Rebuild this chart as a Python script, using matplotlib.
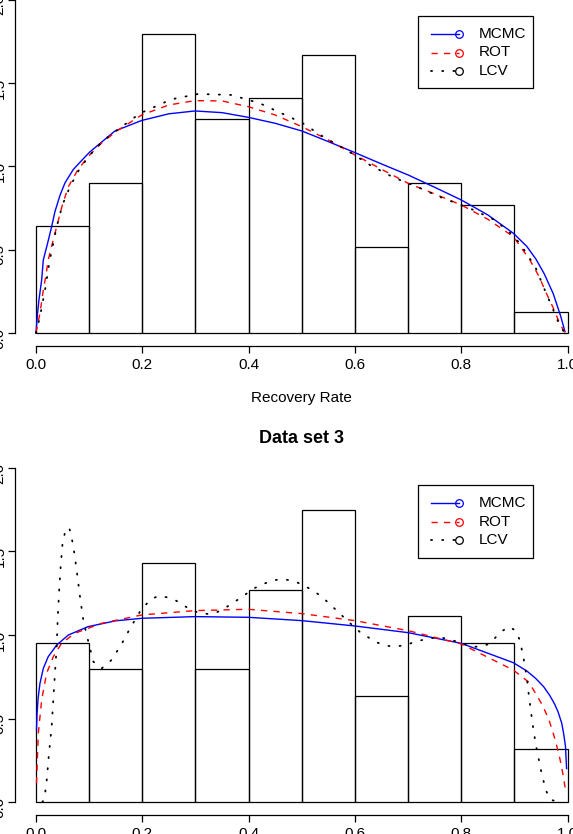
import matplotlib
matplotlib.use('Agg')
import matplotlib.pyplot as plt
from matplotlib.lines import Line2D
from matplotlib.patches import Rectangle
import numpy as np

plt.rcParams['font.family'] = ['Liberation Sans', 'DejaVu Sans']

# ---------------- data ----------------
bin_edges = [0.0, 0.1, 0.2, 0.3, 0.4, 0.5, 0.6, 0.7, 0.8, 0.9, 1.0]
counts_set2 = [5, 7, 14, 10, 11, 13, 4, 7, 6, 1]
counts_set3 = [6, 5, 9, 5, 8, 11, 4, 7, 6, 2]

x_ticks = [0.0, 0.2, 0.4, 0.6, 0.8, 1.0]
x_tick_labels = ["0.0", "0.2", "0.4", "0.6", "0.8", "1.0"]
y_ticks = [0.0, 0.5, 1.0, 1.5, 2.0]
y_tick_labels = ["0.0", "0.5", "1.0", "1.5", "2.0"]

legend_labels = ["MCMC", "ROT", "LCV"]

# Data set 2 (top panel) density curves
mcmc2_x = [0.0, 0.003, 0.0056, 0.0107, 0.0138, 0.022, 0.0295, 0.0357, 0.0451, 0.0545, 0.0700,
           0.0859, 0.101, 0.114, 0.1486, 0.1988, 0.25, 0.299, 0.35, 0.399,
           0.45, 0.5, 0.55, 0.6, 0.65, 0.7, 0.75, 0.8, 0.85, 0.898, 0.923, 0.940,
           0.956, 0.973, 0.987, 0.995]
mcmc2_y = [0.0, 0.118, 0.198, 0.318, 0.438, 0.540, 0.638, 0.728, 0.825, 0.900, 0.980,
           1.035, 1.085, 1.120, 1.212, 1.275, 1.315, 1.332, 1.322, 1.294,
           1.258, 1.212, 1.148, 1.082, 1.014, 0.948, 0.874, 0.798, 0.708, 0.598, 0.520, 0.445,
           0.355, 0.235, 0.100, 0.008]

rot2_x = [0.0, 0.0075, 0.0138, 0.019, 0.023, 0.031, 0.039, 0.049, 0.061, 0.078, 0.098, 0.125,
          0.155, 0.199, 0.25, 0.299, 0.35, 0.399,
          0.45, 0.5, 0.55, 0.6, 0.65, 0.7, 0.75, 0.8, 0.85, 0.898, 0.929, 0.946, 0.960,
          0.973, 0.985, 0.995]
rot2_y = [0.0, 0.118, 0.258, 0.350, 0.438, 0.540, 0.638, 0.760, 0.878, 0.975, 1.058, 1.145,
          1.218, 1.308, 1.368, 1.394, 1.392, 1.358,
          1.308, 1.238, 1.158, 1.068, 0.982, 0.898, 0.834, 0.768, 0.682, 0.578, 0.438, 0.340, 0.238,
          0.150, 0.058, 0.0]

lcv2_x = [0.0, 0.0075, 0.017, 0.026, 0.039, 0.050, 0.064, 0.082, 0.1016, 0.125, 0.153, 0.196,
          0.255, 0.305, 0.368,
          0.421, 0.5, 0.540, 0.584, 0.628, 0.672, 0.716, 0.766, 0.816, 0.860, 0.888, 0.910,
          0.939, 0.957, 0.973, 0.986, 0.995]
lcv2_y = [0.0, 0.098, 0.258, 0.438, 0.638, 0.770, 0.878, 0.985, 1.068, 1.150, 1.218, 1.318,
          1.402, 1.434, 1.428,
          1.378, 1.262, 1.178, 1.098, 1.008, 0.934, 0.878, 0.808, 0.748, 0.682, 0.614, 0.538,
          0.398, 0.258, 0.138, 0.038, 0.0]

# Data set 3 (bottom panel) density curves
mcmc3_x = [0.001, 0.002, 0.004, 0.0075, 0.0138, 0.023, 0.039, 0.061, 0.098, 0.15, 0.199, 0.299,
           0.399, 0.5, 0.6, 0.7, 0.8, 0.898, 0.923, 0.940, 0.955, 0.966, 0.975, 0.982, 0.989, 0.993,
           0.996, 0.998]
mcmc3_y = [0.431, 0.530, 0.620, 0.710, 0.800, 0.870, 0.940, 1.0, 1.05, 1.085, 1.10, 1.11,
           1.106, 1.086, 1.054, 1.014, 0.950, 0.834, 0.785, 0.740, 0.690, 0.640, 0.590, 0.540, 0.471,
           0.400, 0.331, 0.200]

rot3_x = [0.001, 0.0044, 0.0107, 0.020, 0.0326, 0.048, 0.073, 0.1235, 0.199, 0.299, 0.399, 0.5,
          0.6, 0.7, 0.8, 0.898, 0.926, 0.940, 0.954, 0.965, 0.973, 0.980, 0.986, 0.991, 0.995, 0.997]
rot3_y = [0.112, 0.411, 0.611, 0.771, 0.870, 0.950, 1.010, 1.070, 1.120, 1.146, 1.154, 1.128,
          1.086, 1.026, 0.946, 0.790, 0.720, 0.650, 0.571, 0.490, 0.411, 0.330, 0.251, 0.170, 0.092, 0.052]

lcv3_x = [0.012, 0.0156, 0.020, 0.0245, 0.0295, 0.0326, 0.0357, 0.039, 0.0408, 0.0433, 0.0464,
          0.050, 0.0559, 0.0627, 0.070, 0.0765, 0.0828, 0.089, 0.0954, 0.108, 0.1235, 0.142,
          0.160, 0.177, 0.1956, 0.2144, 0.230, 0.2458, 0.2614, 0.2896, 0.308, 0.324, 0.340,
          0.355, 0.3837, 0.4106, 0.442, 0.459, 0.477, 0.4924, 0.506, 0.5215, 0.5354, 0.548,
          0.561, 0.573, 0.5855, 0.6106, 0.625, 0.639, 0.6564, 0.672, 0.688, 0.7047, 0.721,
          0.738, 0.7548, 0.771, 0.788, 0.805, 0.8213, 0.836, 0.852, 0.8646, 0.877, 0.890,
          0.902, 0.910, 0.9166, 0.923, 0.927, 0.9335, 0.9400, 0.9447, 0.951, 0.959, 0.9667, 0.982]
lcv3_y = [0.0, 0.016, 0.122, 0.292, 0.451, 0.611, 0.771, 0.930, 1.090, 1.250, 1.409,
          1.549, 1.633, 1.641, 1.539, 1.389, 1.229, 1.090, 1.0, 0.840, 0.800, 0.850,
          0.940, 1.040, 1.140, 1.210, 1.234, 1.226, 1.210, 1.154, 1.130, 1.126, 1.136,
          1.160, 1.220, 1.280, 1.325, 1.333, 1.329, 1.313, 1.293, 1.265, 1.234, 1.199,
          1.160, 1.124, 1.086, 1.014, 0.986, 0.958, 0.938, 0.930, 0.936, 0.950, 0.966,
          0.978, 0.986, 0.980, 0.964, 0.946, 0.930, 0.930, 0.946, 0.986, 1.024, 1.050,
          1.026, 0.970, 0.870, 0.750, 0.640, 0.480, 0.345, 0.271, 0.172, 0.072, 0.016, 0.0]

# ---------------- layout (pixels) ----------------
W, H = 573, 834
fig = plt.figure(figsize=(W / 100, H / 100), dpi=100)


def fig_rect(left, top, right, bottom):
    return [left / W, 1 - bottom / H, (right - left) / W, (bottom - top) / H]


def px(x, y):
    return x / W, 1 - y / H


FS = 11
LW = 1.0
styles = [
    dict(color='blue', linestyle='-', lw=LW),
    dict(color='red', linestyle=(0, (4.5, 4.5)), lw=LW),
    dict(color='black', linestyle=(0, (0.6, 5.6)), lw=LW * 1.3, dash_capstyle='round'),
]


def draw_panel(ax, counts, curves, title=None, xlabel=None):
    n = sum(counts)
    widths = np.diff(bin_edges)
    dens = np.array(counts) / (n * widths)
    ax.bar(bin_edges[:-1], dens, width=widths, align='edge', fill=False,
           edgecolor='black', linewidth=0.9)
    for (cx, cy), st in zip(curves, styles):
        ax.plot(cx, cy, **st)
    ax.set_xlim(-0.04, 1.04)
    ax.set_ylim(-0.08, 2.08)
    for s in ['top', 'right']:
        ax.spines[s].set_visible(False)
    ax.spines['left'].set_bounds(0, 2)
    ax.spines['bottom'].set_bounds(0, 1)
    for s in ['left', 'bottom']:
        ax.spines[s].set_linewidth(0.9)
    ax.set_xticks(x_ticks)
    ax.set_xticklabels(x_tick_labels)
    ax.set_yticks(y_ticks)
    ax.set_yticklabels(y_tick_labels)
    ax.tick_params(direction='out', length=5, width=0.9, labelsize=FS, pad=3.5)
    ax.tick_params(axis='y', labelrotation=90, pad=0.8)
    ax.patch.set_visible(False)
    if title:
        ax.set_title(title, fontsize=13, fontweight='bold', pad=8)
    if xlabel:
        ax.set_xlabel(xlabel, fontsize=FS, labelpad=13.5)


def draw_legend(box_left, box_top, box_right, box_bottom, rows_y):
    fig.patches.append(Rectangle(px(box_left, box_bottom),
                                 (box_right - box_left) / W, (box_bottom - box_top) / H,
                                 transform=fig.transFigure, fill=False,
                                 edgecolor='black', linewidth=0.9))
    for lab, st, yy in zip(legend_labels, styles, rows_y):
        x0, y0 = px(431, yy)
        x1, _ = px(459, yy)
        fig.add_artist(Line2D([x0, x1], [y0, y0], transform=fig.transFigure, **st))
        fig.add_artist(Line2D([x1], [y0], transform=fig.transFigure, linestyle='none',
                              marker='o', markersize=5.5, markerfacecolor='none',
                              markeredgecolor=st['color'], markeredgewidth=0.9))
        tx, ty = px(479, yy)
        fig.text(tx, ty, lab, fontsize=FS, ha='left', va='center')


ax1 = fig.add_axes(fig_rect(14.7, -13.7, 588.9, 346.3))
draw_panel(ax1, counts_set2,
           [(mcmc2_x, mcmc2_y), (rot2_x, rot2_y), (lcv2_x, lcv2_y)],
           title="Data set 2", xlabel="Recovery Rate")
draw_legend(418, 16, 533, 88, [33.5, 52.5, 71])

ax2 = fig.add_axes(fig_rect(14.7, 454.6, 588.9, 815.4))
draw_panel(ax2, counts_set3,
           [(mcmc3_x, mcmc3_y), (rot3_x, rot3_y), (lcv3_x, lcv3_y)],
           title="Data set 3", xlabel="Recovery Rate")
draw_legend(418, 485, 533, 558, [503.3, 521.7, 540])

fig.savefig('out.png', dpi=100)
